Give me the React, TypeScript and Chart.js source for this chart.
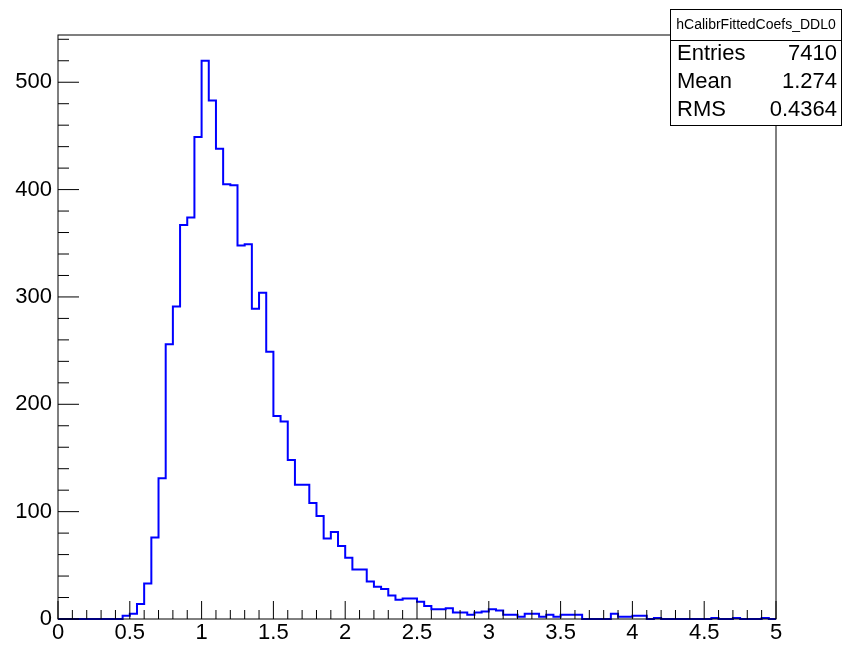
import React, { useEffect, useRef } from "react";
import { Chart, registerables } from "chart.js";

Chart.register(...registerables);

// Histogram definition (100 bins from X_MIN to X_MAX)
const X_MIN = 0;
const X_MAX = 5;
const Y_MAX = 544;

// bin contents, bin i covers [0.05*i, 0.05*(i+1))
const counts: number[] = [
  0, 0, 0, 0, 0, 0, 0, 0, 0, 3, // 0.00 - 0.45
  5, 14, 33, 76, 131, 256, 291, 367, 374, 449, // 0.50 - 0.95
  520, 483, 438, 405, 404, 348, 349, 289, 304, 249, // 1.00 - 1.45
  189, 184, 148, 125, 125, 108, 96, 75, 81, 68, // 1.50 - 1.95
  57, 46, 46, 35, 30, 28, 22, 18, 19, 19, // 2.00 - 2.45
  16, 12, 9, 9, 10, 6, 6, 4, 6, 7, // 2.50 - 2.95
  9, 8, 4, 4, 2, 5, 5, 2, 4, 2, // 3.00 - 3.45
  4, 4, 4, 0, 0, 0, 0, 5, 2, 2, // 3.50 - 3.95
  3, 3, 0, 1, 0, 0, 0, 0, 0, 0, // 4.00 - 4.45
  0, 1, 0, 0, 1, 0, 0, 0, 1, 0, // 4.50 - 4.95
];

const xTickValues = [0, 0.5, 1, 1.5, 2, 2.5, 3, 3.5, 4, 4.5, 5];
const xTickLabels = ["0", "0.5", "1", "1.5", "2", "2.5", "3", "3.5", "4", "4.5", "5"];
const yTickValues = [0, 100, 200, 300, 400, 500];
const yTickLabels = ["0", "100", "200", "300", "400", "500"];
const X_MINOR_DIV = 5;
const Y_MINOR_DIV = 5;

const histTitle = "hCalibrFittedCoefs_DDL0";
const statLabels = ["Entries", "Mean", "RMS"];
const statValues = ["7410", "1.274", "0.4364"];

const FONT = "'Liberation Sans', Arial, Helvetica, sans-serif";

const rootFramePlugin = {
  id: "rootFrame",
  afterDatasetsDraw(chart: any) {
    const { ctx, chartArea } = chart;
    const xs = chart.scales.x;
    const ys = chart.scales.y;
    const { left, right, top, bottom } = chartArea;
    ctx.save();
    ctx.strokeStyle = "#000";
    ctx.lineWidth = 1;
    // frame
    ctx.strokeRect(left, top, right - left, bottom - top);
    // x ticks (inside, pointing up)
    ctx.beginPath();
    for (let i = 0; i < xTickValues.length; i++) {
      const v = xTickValues[i];
      const px = xs.getPixelForValue(v);
      ctx.moveTo(px, bottom);
      ctx.lineTo(px, bottom - 18);
      if (i < xTickValues.length - 1) {
        const step = (xTickValues[i + 1] - v) / X_MINOR_DIV;
        for (let k = 1; k < X_MINOR_DIV; k++) {
          const mx = xs.getPixelForValue(v + k * step);
          ctx.moveTo(mx, bottom);
          ctx.lineTo(mx, bottom - 9);
        }
      }
    }
    // y ticks (inside, pointing right)
    const yStep = (yTickValues[1] - yTickValues[0]) / Y_MINOR_DIV;
    for (let i = 0; i < yTickValues.length; i++) {
      const v = yTickValues[i];
      const py = ys.getPixelForValue(v);
      ctx.moveTo(left, py);
      ctx.lineTo(left + 21, py);
      for (let k = 1; k < Y_MINOR_DIV; k++) {
        const mv = v + k * yStep;
        if (mv > Y_MAX) break;
        const my = ys.getPixelForValue(mv);
        ctx.moveTo(left, my);
        ctx.lineTo(left + 11, my);
      }
    }
    ctx.stroke();
    ctx.restore();
  },
  afterDraw(chart: any) {
    const { ctx } = chart;
    ctx.save();
    const bx = 670.5, by = 9.5, bw = 171, bh = 116;
    ctx.fillStyle = "#fff";
    ctx.fillRect(bx, by, bw, bh);
    ctx.strokeStyle = "#000";
    ctx.lineWidth = 1;
    ctx.strokeRect(bx, by, bw, bh);
    ctx.beginPath();
    ctx.moveTo(bx, 40.5);
    ctx.lineTo(bx + bw, 40.5);
    ctx.stroke();
    ctx.fillStyle = "#000";
    ctx.textBaseline = "middle";
    ctx.textAlign = "center";
    ctx.font = `14px ${FONT}`;
    ctx.fillText(histTitle, bx + bw / 2, 25);
    ctx.font = `22px ${FONT}`;
    const rowsY = [54, 82, 110];
    for (let i = 0; i < statLabels.length; i++) {
      ctx.textAlign = "left";
      ctx.fillText(statLabels[i], 677, rowsY[i]);
      ctx.textAlign = "right";
      ctx.fillText(statValues[i], 837, rowsY[i]);
    }
    ctx.restore();
  },
};

export default function App() {
  const canvasRef = useRef<HTMLCanvasElement | null>(null);

  useEffect(() => {
    const canvas = canvasRef.current;
    if (!canvas) return;
    const binWidth = (X_MAX - X_MIN) / counts.length;
    const points = counts.map((c, i) => ({ x: X_MIN + i * binWidth, y: c }));
    points.push({ x: X_MAX, y: counts[counts.length - 1] });

    const chart = new Chart(canvas, {
      type: "line",
      data: {
        datasets: [
          {
            data: points,
            borderColor: "#0000ff",
            borderWidth: 2,
            pointRadius: 0,
            stepped: "before",
            fill: false,
            tension: 0,
            clip: 4,
          } as any,
        ],
      },
      options: {
        responsive: false,
        animation: false,
        events: [],
        layout: { padding: { top: 35, right: 68, left: 0, bottom: 0 } },
        plugins: { legend: { display: false }, tooltip: { enabled: false }, title: { display: false } },
        scales: {
          x: {
            type: "linear",
            min: X_MIN,
            max: X_MAX,
            grid: { display: false, drawTicks: false },
            border: { display: false },
            afterFit: (s: any) => {
              s.height = 28;
            },
            afterBuildTicks: (s: any) => {
              s.ticks = xTickValues.map((v) => ({ value: v }));
            },
            ticks: {
              autoSkip: false,
              maxRotation: 0,
              minRotation: 0,
              padding: 1,
              color: "#000",
              font: { family: FONT, size: 22 },
              callback: (v: any) => {
                const idx = xTickValues.indexOf(Number(v));
                return idx >= 0 ? xTickLabels[idx] : "";
              },
            },
          },
          y: {
            type: "linear",
            min: 0,
            max: Y_MAX,
            grid: { display: false, drawTicks: false },
            border: { display: false },
            afterFit: (s: any) => {
              s.width = 58;
            },
            afterBuildTicks: (s: any) => {
              s.ticks = yTickValues.map((v) => ({ value: v }));
            },
            ticks: {
              autoSkip: false,
              padding: 6,
              color: "#000",
              font: { family: FONT, size: 22 },
              callback: (v: any) => {
                const idx = yTickValues.indexOf(Number(v));
                return idx >= 0 ? yTickLabels[idx] : "";
              },
            },
          },
        },
      },
      plugins: [rootFramePlugin],
    });
    return () => chart.destroy();
  }, []);

  return (
    <div style={{ position: "absolute", left: 0, top: 0, width: 844, height: 647, background: "#fff" }}>
      <canvas ref={canvasRef} width={844} height={647} style={{ display: "block" }} />
    </div>
  );
}
